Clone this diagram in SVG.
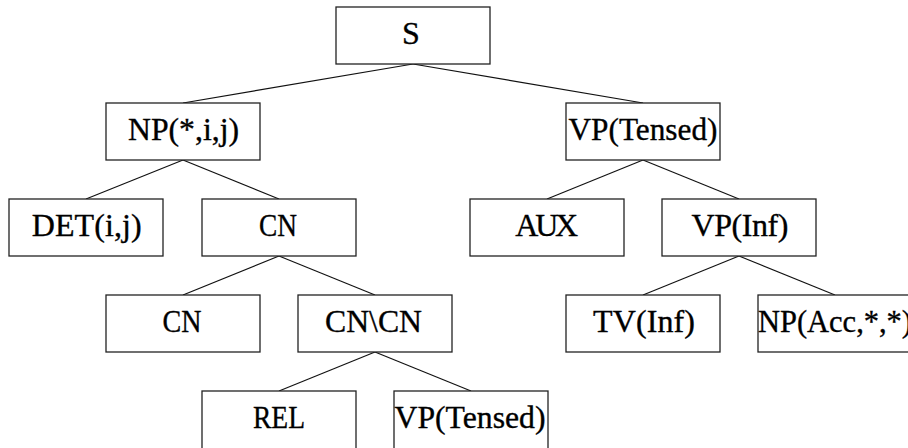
<svg xmlns="http://www.w3.org/2000/svg" width="908" height="448" viewBox="0 0 908 448">
<style>
.box{fill:#fff;stroke:#222;stroke-width:1.3}
.lbl{font-family:"Liberation Serif","Times New Roman",serif;font-size:32px;fill:#000;stroke:#000;stroke-width:0.35;text-anchor:middle}
.edge{stroke:#111;stroke-width:1.2;fill:none}
</style>
<rect width="908" height="448" fill="#fff"/>
<g id="connectors">
<line class="edge" x1="413" y1="64" x2="183" y2="103"/>
<line class="edge" x1="413" y1="64" x2="643" y2="103"/>
<line class="edge" x1="183" y1="160" x2="86" y2="199"/>
<line class="edge" x1="183" y1="160" x2="279" y2="199"/>
<line class="edge" x1="643" y1="160" x2="547" y2="199"/>
<line class="edge" x1="643" y1="160" x2="739" y2="199"/>
<line class="edge" x1="279" y1="256" x2="183" y2="295"/>
<line class="edge" x1="279" y1="256" x2="375" y2="295"/>
<line class="edge" x1="739" y1="256" x2="643" y2="295"/>
<line class="edge" x1="739" y1="256" x2="835" y2="295"/>
<line class="edge" x1="375" y1="352" x2="279" y2="391"/>
<line class="edge" x1="375" y1="352" x2="471" y2="391"/>
</g>
<g id="n_S"><rect class="box" x="336" y="7" width="154" height="57"/><text class="lbl" x="411" y="44">S</text></g>
<g id="n_NP"><rect class="box" x="106" y="103" width="154" height="57"/><text class="lbl" x="183.5" y="140" textLength="111" lengthAdjust="spacingAndGlyphs">NP(*,i,j)</text></g>
<g id="n_VPT"><rect class="box" x="566" y="103" width="154" height="57"/><text class="lbl" x="643" y="140" textLength="149" lengthAdjust="spacingAndGlyphs">VP(Tensed)</text></g>
<g id="n_DET"><rect class="box" x="9" y="199" width="154" height="57"/><text class="lbl" x="86.7" y="236" textLength="110" lengthAdjust="spacing">DET(i,j)</text></g>
<g id="n_CN1"><rect class="box" x="202" y="199" width="154" height="57"/><text class="lbl" x="278" y="236" textLength="38" lengthAdjust="spacingAndGlyphs">CN</text></g>
<g id="n_AUX"><rect class="box" x="470" y="199" width="154" height="57"/><text class="lbl" x="546.7" y="236" textLength="63" lengthAdjust="spacing">AUX</text></g>
<g id="n_VPI"><rect class="box" x="662" y="199" width="154" height="57"/><text class="lbl" x="740" y="236" textLength="97" lengthAdjust="spacing">VP(Inf)</text></g>
<g id="n_CN2"><rect class="box" x="106" y="295" width="154" height="57"/><text class="lbl" x="182" y="332" textLength="39" lengthAdjust="spacingAndGlyphs">CN</text></g>
<g id="n_CNCN"><rect class="box" x="298" y="295" width="154" height="57"/><text class="lbl" x="373.5" y="332" textLength="97" lengthAdjust="spacingAndGlyphs">CN\CN</text></g>
<g id="n_TV"><rect class="box" x="566" y="295" width="154" height="57"/><text class="lbl" x="644" y="332" textLength="102" lengthAdjust="spacing">TV(Inf)</text></g>
<g id="n_NPA"><rect class="box" x="758" y="295" width="154" height="57"/><text class="lbl" x="835" y="332" textLength="154" lengthAdjust="spacingAndGlyphs">NP(Acc,*,*)</text></g>
<g id="n_REL"><rect class="box" x="202" y="391" width="154" height="60"/><text class="lbl" x="279" y="428" textLength="52" lengthAdjust="spacingAndGlyphs">REL</text></g>
<g id="n_VPT2"><rect class="box" x="394" y="391" width="154" height="60"/><text class="lbl" x="470" y="428" textLength="151" lengthAdjust="spacingAndGlyphs">VP(Tensed)</text></g>
</svg>
